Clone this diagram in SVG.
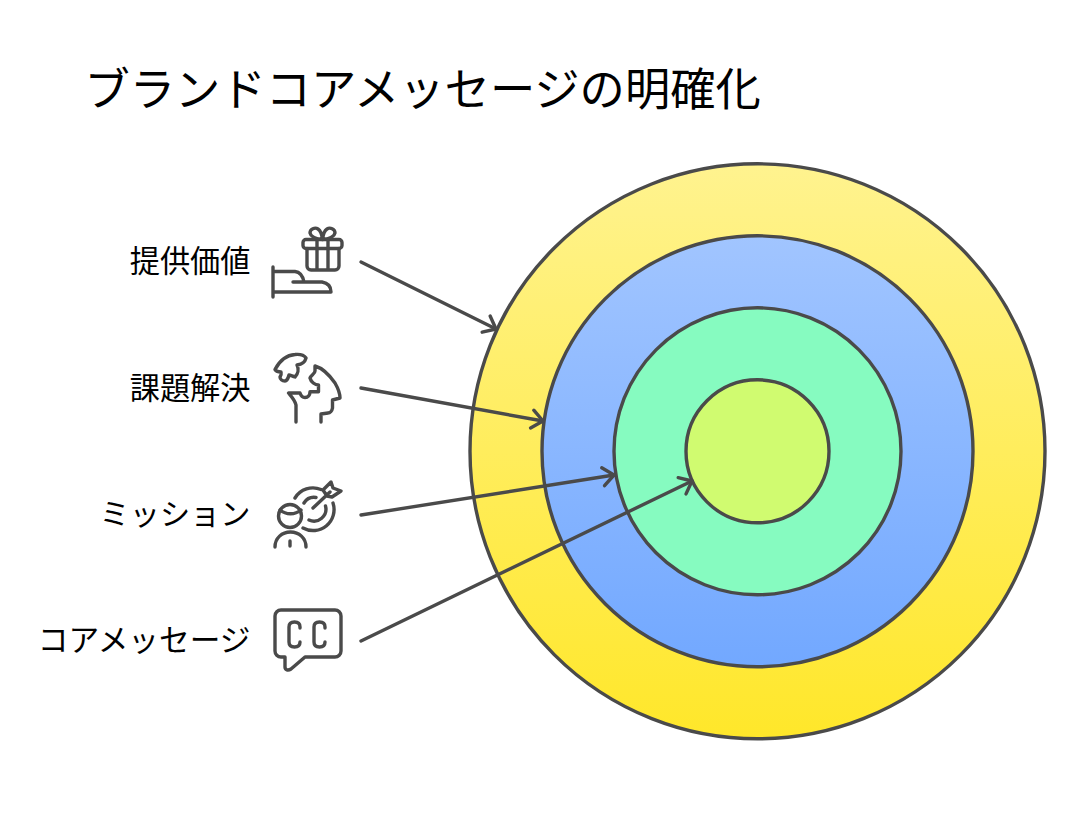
<svg xmlns="http://www.w3.org/2000/svg" width="1083" height="813" viewBox="0 0 1083 813">
<style>
text{font-family:"Noto Sans CJK JP","Noto Sans",sans-serif;fill:#000}
.t{font-size:45.3px}
.l{font-size:30.2px;text-anchor:end}
.c{stroke:#4a4a4a;stroke-width:3.400}
.i{fill:none;stroke:#4a4a4a;stroke-width:3.400;stroke-linecap:round;stroke-linejoin:round}
.a{fill:none;stroke:#4a4a4a;stroke-width:3.400;stroke-linecap:round;stroke-linejoin:round;marker-end:url(#h)}
</style>
<defs>
<linearGradient id="gy" x1="0" y1="0" x2="0" y2="1"><stop offset="0" stop-color="#FFF38F"/><stop offset="1" stop-color="#FFE72A"/></linearGradient>
<linearGradient id="gb" x1="0" y1="0" x2="0" y2="1"><stop offset="0" stop-color="#A1C5FF"/><stop offset="1" stop-color="#72A8FF"/></linearGradient>
<marker id="h" markerUnits="userSpaceOnUse" markerWidth="24" markerHeight="24" refX="14" refY="12" orient="auto" viewBox="0 0 24 24"><path d="M3 3 L14 12 L3 21" fill="none" stroke="#4a4a4a" stroke-width="3.400" stroke-linecap="round" stroke-linejoin="round"/></marker>
</defs>
<rect width="1083" height="813" fill="#fff"/>
<text class="t" x="84.500" y="106">ブランドコアメッセージの明確化</text>
<g id="ring-value"><circle class="c" cx="757.500" cy="451.300" r="287.500" fill="url(#gy)"/></g>
<g id="ring-problem"><circle class="c" cx="757.500" cy="451.300" r="215.500" fill="url(#gb)"/></g>
<g id="ring-mission"><circle class="c" cx="757.500" cy="451.300" r="143.500" fill="#86FBC0"/></g>
<g id="ring-core"><circle class="c" cx="757.500" cy="451.300" r="71.500" fill="#D0FB70"/></g>
<g id="connectors">
<path class="a" d="M361 262 L496 329"/>
<path class="a" d="M361 388 L543 421"/>
<path class="a" d="M361 515 L614 475"/>
<path class="a" d="M361 641 L692 481"/>
</g>
<g id="label-value"><text class="l" x="250.500" y="271.500">提供価値</text>
<g class="i"><rect x="303" y="239.500" width="39" height="9" rx="3"/><path d="M307 248.500V266a4 4 0 0 0 4 4H335a4 4 0 0 0 4-4V248.500M317 239.500V270M328 239.500V270M322.500 239.500C318 239 311 238 310 233C310 229 315 227 318 229C321 231 322 235 322.500 239.500C323 235 324 231 327 229C330 227 335 229 335 233C334 238 327 239 322.500 239.500"/>
<path d="M273 267V297M273 271.500H295C300 272 303 277 304 282M293 282H322C328 283 331 287 331 292H273"/></g></g>
<g id="label-problem"><text class="l" x="250.500" y="398.500">課題解決</text>
<g class="i"><path d="M275 369.500C280 360 287 355 295 354.500C300 354 304 355 306 358C305 362 303 364 297 365C299 369 298 374 295 377C292 376 290 375 289 375C288 379 286 381 285 381C282 381 280 379 280 377C282 374 281 373 281 372C278 372 276 371 275 369.500Z"/>
<path d="M296 422V405C295 400 291 396 288.500 393H300C301 396 303 397.500 305 397.500C308 397.500 310 395 310 391.700H318.500V385C315 385 311 382 310 378C311 375 315 374 315 371V366C322 368 328 373 335 383C339 390 340 395 340 398L332.500 400V408C332 411 330 413 328 413L321 414V422"/></g></g>
<g id="label-mission"><text class="l" x="250.500" y="524.500">ミッション</text>
<g class="i"><circle cx="290" cy="516" r="11.500"/><path d="M280 510C286 515 295 515 301 510M275 547C275 538 282 532 290.500 532C299 532 306 538 306 547M290 541V546"/>
<path d="M295 498A21 21 0 0 1 321 489.500M333 503A21 21 0 0 1 303 528M304 503A12 12 0 0 1 316 497.500M325.500 506A12 12 0 0 1 309 520M313 508L330 492M323 490L331 482L333 488L341 491L332 497L327 496Z"/></g></g>
<g id="label-core"><text class="l" x="250.500" y="650.500" style="font-size:30.700px">コアメッセージ</text>
<g class="i"><path d="M281 610H335a6 6 0 0 1 6 6V651a6 6 0 0 1-6 6H305L291 669C288 671 285 670 285 667V657H281a6 6 0 0 1-6-6V616a6 6 0 0 1 6-6Z"/>
<path d="M300 628V627C300 624 298 622 294.500 622C291 622 289 624 289 627V642C289 645 291 647 294.500 647C298 647 300 645 300 642M325 628V627C325 624 323 622 319.500 622C316 622 314 624 314 627V642C314 645 316 647 319.500 647C323 647 325 645 325 642"/></g></g>
</svg>
